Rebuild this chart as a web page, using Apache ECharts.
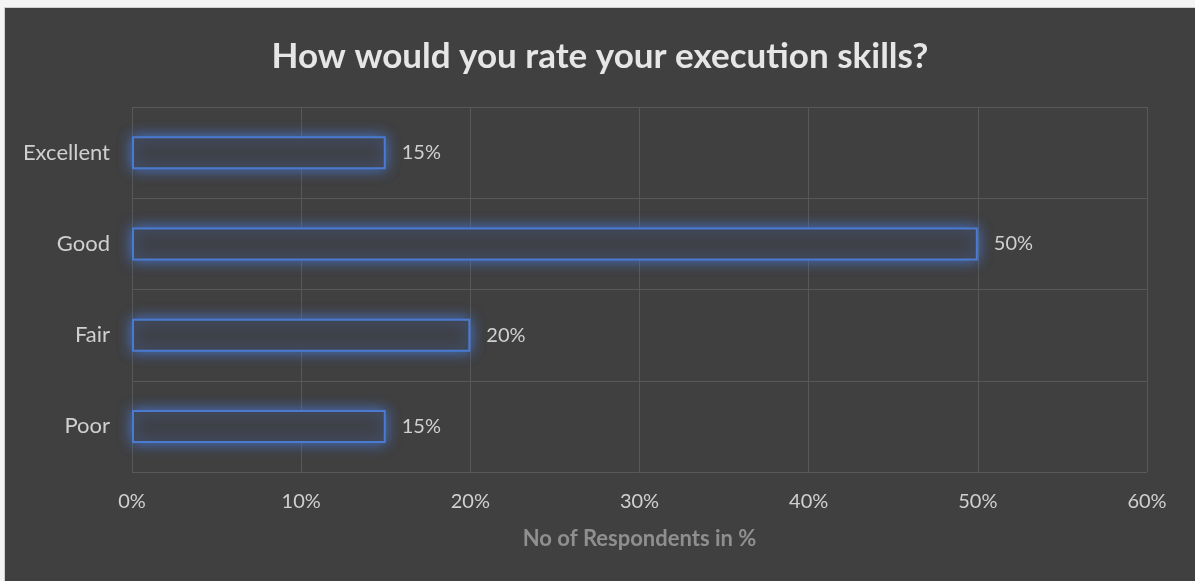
<!DOCTYPE html>
<html>
<head>
<meta charset="utf-8">
<title>How would you rate your execution skills?</title>
<script src="https://cdn.jsdelivr.net/npm/echarts@6/dist/echarts.min.js"></script>
<style>
  html, body { margin: 0; padding: 0; background: #f4f4f4; }
  #frame { position: absolute; left: 4px; top: 7px; width: 1191px; height: 574px; background: #cfcfcf; }
  #chart { position: absolute; left: 1px; top: 1px; width: 1190px; height: 573px; background: #404040; }
</style>
</head>
<body>
<div id="frame"><div id="chart"></div></div>
<script>
// Survey answers, top to bottom
const categories = ['Excellent', 'Good', 'Fair', 'Poor'];
// Share of respondents for each answer, in percent
const respondents = [15, 50, 20, 15];
// Horizontal axis range and step, in percent
const axisMin = 0;
const axisMax = 60;
const axisStep = 10;

const FONT = 'Lato, "Open Sans", sans-serif';

const chart = echarts.init(document.getElementById('chart'), null, { renderer: 'canvas' });

chart.setOption({
  backgroundColor: '#404040',
  animation: false,
  title: {
    text: 'How would you rate your execution skills?',
    left: 'center',
    top: 26,
    textStyle: { color: '#e6e6e6', fontFamily: FONT, fontWeight: 'bold', fontSize: 35 }
  },
  grid: { left: 127, right: 48, top: 99, bottom: 109, containLabel: false },
  xAxis: {
    type: 'value',
    min: axisMin,
    max: axisMax,
    interval: axisStep,
    name: 'No of Respondents in %',
    nameLocation: 'middle',
    nameGap: 56,
    nameTextStyle: { color: '#8f8f8f', fontFamily: FONT, fontWeight: 'bold', fontSize: 22 },
    axisLine: { show: false },
    axisTick: { show: false },
    axisLabel: {
      color: '#d0d0d0', fontFamily: FONT, fontSize: 20, margin: 20,
      formatter: '{value}%'
    },
    splitLine: { show: true, lineStyle: { color: '#585858', width: 1 } }
  },
  yAxis: {
    type: 'category',
    data: categories,
    inverse: true,
    axisLine: { show: false },
    axisTick: { show: false },
    axisLabel: { color: '#d0d0d0', fontFamily: FONT, fontSize: 22, margin: 22 },
    splitLine: { show: true, lineStyle: { color: '#585858', width: 1 } }
  },
  series: [{
    type: 'bar',
    data: respondents,
    barWidth: 33,
    itemStyle: {
      color: '#3f4147',
      borderColor: '#4a7bd0',
      borderWidth: 2,
      shadowBlur: 14,
      shadowColor: 'rgba(72,118,205,1)'
    },
    label: {
      show: true,
      position: 'right',
      distance: 16,
      color: '#d0d0d0',
      fontFamily: FONT,
      fontSize: 20,
      formatter: p => p.value + '%'
    }
  }]
});
</script>
</body>
</html>
